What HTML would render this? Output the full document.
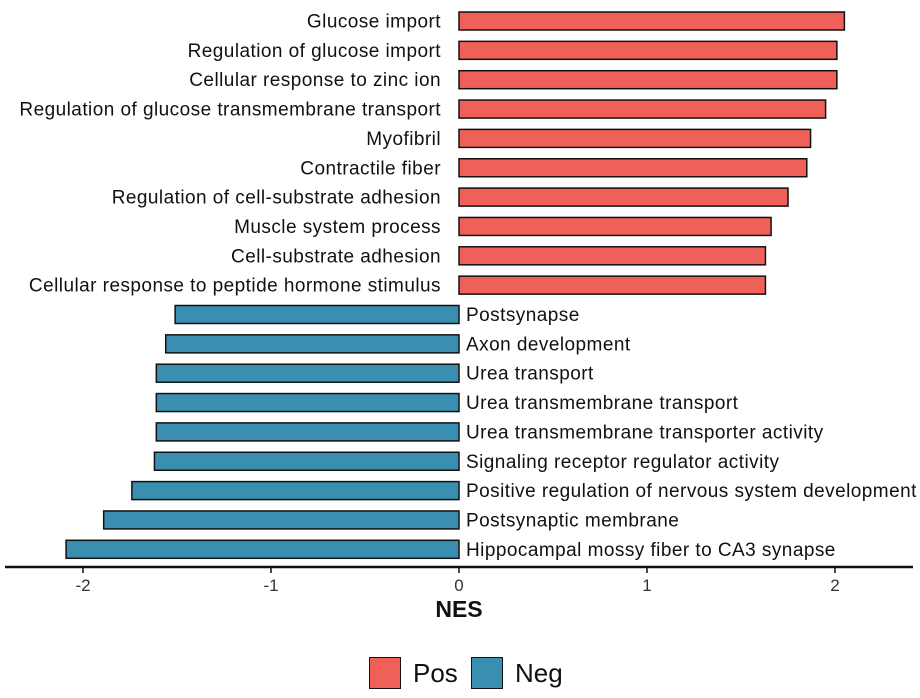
<!DOCTYPE html>
<html><head><meta charset="utf-8"><style>
body{margin:0;background:#fff;}
svg{display:block;font-family:"Liberation Sans",Arial,sans-serif;}
</style></head><body>
<svg id="chart" width="920" height="698"></svg>
<script>
const categories=["Glucose import","Regulation of glucose import","Cellular response to zinc ion","Regulation of glucose transmembrane transport","Myofibril","Contractile fiber","Regulation of cell-substrate adhesion","Muscle system process","Cell-substrate adhesion","Cellular response to peptide hormone stimulus","Postsynapse","Axon development","Urea transport","Urea transmembrane transport","Urea transmembrane transporter activity","Signaling receptor regulator activity","Positive regulation of nervous system development","Postsynaptic membrane","Hippocampal mossy fiber to CA3 synapse"];
const nesValues=[2.05,2.01,2.01,1.95,1.87,1.85,1.75,1.66,1.63,1.63,-1.51,-1.56,-1.61,-1.61,-1.61,-1.62,-1.74,-1.89,-2.09];
const tickValues=[-2,-1,0,1,2];
const tickLabels=["-2","-1","0","1","2"];
const NS="http://www.w3.org/2000/svg";
const svg=document.getElementById("chart");
const x=v=>459+v*188;
const y=i=>21+i*29.35;
function el(t,a,txt){const e=document.createElementNS(NS,t);for(const k in a)e.setAttribute(k,a[k]);if(txt!==undefined)e.textContent=txt;svg.appendChild(e);return e;}
categories.forEach((c,i)=>{
  const v=nesValues[i],pos=v>=0;
  const r=el("rect",{x:Math.min(x(0),x(v)),y:y(i)-9,width:Math.abs(x(v)-x(0)),height:18,fill:pos?"#EF6158":"#3A8FB0",stroke:"#111","stroke-width":1.5});
  
  
  const t=el("text",{x:pos?x(0)-18:x(0)+7,y:y(i)+6.5,"font-size":19,"letter-spacing":0.45,fill:"#111","text-anchor":pos?"end":"start"},c);
  
  
});
const ax=el("line",{x1:5,x2:913,y1:567,y2:567,stroke:"#111","stroke-width":2.5});


tickValues.forEach((v,i)=>{
  const tk=el("line",{x1:x(v),x2:x(v),y1:567,y2:573,stroke:"#111","stroke-width":1.5});
  
  
  const tl=el("text",{x:x(v),y:591,"font-size":17,fill:"#333","text-anchor":"middle"},tickLabels[i]);
  
  
});
const at=el("text",{x:459,y:617,"font-size":23,"font-weight":"bold",fill:"#111","text-anchor":"middle"},"NES");


</script>
<div style="position:absolute;left:0;top:0;">
  <div style="position:absolute;left:369px;top:657px;width:32px;height:32px;background:#EF6158;border:1.5px solid #111;box-sizing:border-box"></div>
  <div style="position:absolute;left:413px;top:658px;font:26px 'Liberation Sans',sans-serif;color:#111">Pos</div>
  <div style="position:absolute;left:471px;top:657px;width:32px;height:32px;background:#3A8FB0;border:1.5px solid #111;box-sizing:border-box"></div>
  <div style="position:absolute;left:515px;top:658px;font:26px 'Liberation Sans',sans-serif;color:#111">Neg</div>
</div>
</body></html>
